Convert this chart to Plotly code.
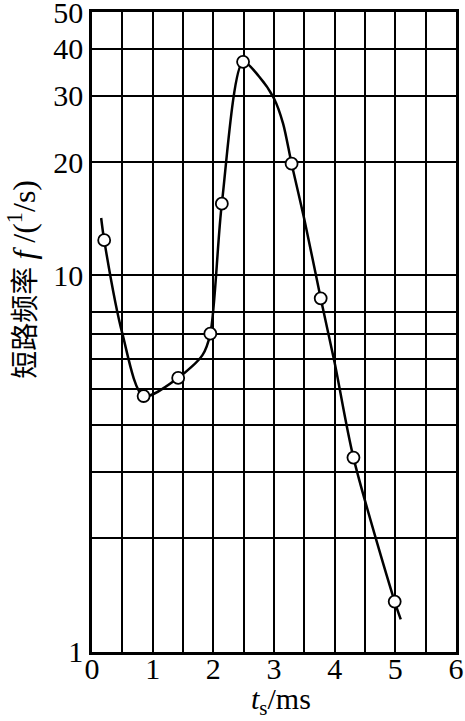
import math

import plotly.graph_objects as go

# measured points (open circles)
t_points = [0.2, 0.85, 1.42, 1.95, 2.14, 2.49, 3.29, 3.77, 4.31, 4.99]
f_points = [12.4, 4.78, 5.34, 7.0, 15.5, 36.9, 19.8, 8.69, 3.28, 1.36]

# hand-drawn fitted curve, read along its path
t_curve = [0.15, 0.2, 0.5, 0.85, 1.42, 1.82, 1.95, 2.14, 2.49, 2.75, 3.0, 3.15, 3.29, 3.5, 3.77, 4.0, 4.31, 4.99, 5.09]
f_curve = [14.2, 12.4, 7.0, 4.78, 5.34, 6.14, 7.0, 15.5, 36.9, 33.8, 29.5, 25.3, 19.8, 14.1, 8.69, 5.86, 3.28, 1.36, 1.22]

x_ticks = [0, 0.5, 1, 1.5, 2, 2.5, 3, 3.5, 4, 4.5, 5, 5.5, 6]
x_labels = ["0", "", "1", "", "2", "", "3", "", "4", "", "5", "", "6"]
y_ticks = [1, 2, 3, 4, 5, 6, 7, 8, 10, 20, 30, 40, 50]
y_labels = ["1", "", "", "", "", "", "", "", "10", "20", "30", "40", "50"]

serif = "Liberation Serif, Noto Sans CJK SC, serif"

fig = go.Figure()

fig.add_trace(go.Scatter(
    x=t_curve,
    y=f_curve,
    mode="lines",
    line=dict(color="black", width=2.5, shape="spline", smoothing=0.8),
    hoverinfo="skip"
))

fig.add_trace(go.Scatter(
    x=t_points,
    y=f_points,
    mode="markers",
    marker=dict(symbol="circle", size=12, color="white",
                line=dict(color="black", width=1.8))
))

axis_style = dict(
    showgrid=True,
    gridcolor="black",
    gridwidth=2,
    showline=True,
    linecolor="black",
    linewidth=2.5,
    mirror=True,
    ticks="",
    zeroline=False,
    automargin=False,
    ticklabeloverflow="allow",
    tickfont=dict(family=serif, size=30, color="black")
)

fig.update_xaxes(
    range=[-0.001, 6.001],
    tickvals=x_ticks,
    ticktext=x_labels,
    ticklabelstandoff=-12,
    **axis_style
)

fig.update_yaxes(
    type="log",
    range=[-0.0005, math.log10(50) + 0.0005],
    tickvals=y_ticks,
    ticktext=y_labels,
    ticklabelstandoff=0,
    **axis_style
)

fig.add_annotation(
    text="短路频率 <span style='font-size:32px'><i>f</i> /(<sup>1</sup>/s)</span>",
    textangle=-90,
    xref="paper", yref="paper",
    x=-0.193, y=0.583,
    xanchor="center", yanchor="middle",
    showarrow=False,
    font=dict(family=serif, size=28, color="black")
)

fig.add_annotation(
    text="<i>t</i><sub>s</sub>/ms",
    xref="paper", yref="paper",
    x=0.519, y=-0.077,
    xanchor="center", yanchor="middle",
    showarrow=False,
    font=dict(family=serif, size=30, color="black")
)

fig.update_layout(
    width=465,
    height=721,
    margin=dict(l=92, r=9, t=12, b=69),
    plot_bgcolor="white",
    paper_bgcolor="white",
    showlegend=False
)

# drop the default 8px body margin so the figure sits at the page corner
fig.write_html(
    "out.html",
    config={"displayModeBar": False},
    post_script="document.body.style.margin = '0';"
)
